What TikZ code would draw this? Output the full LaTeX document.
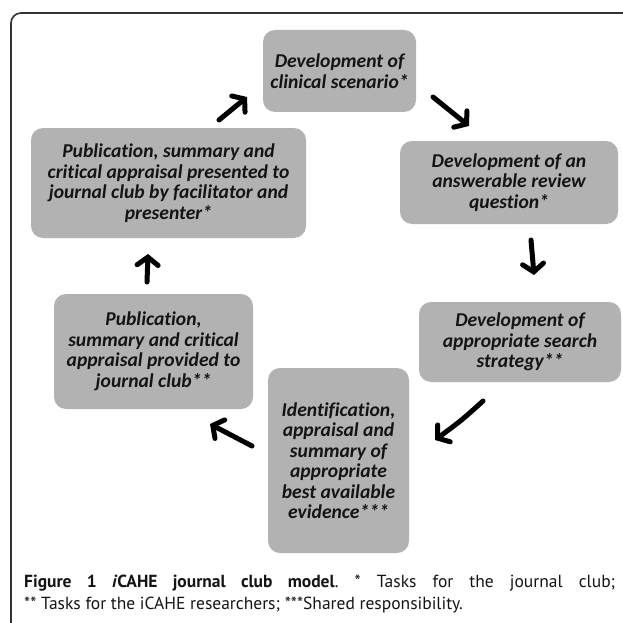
\documentclass[tikz,border=0pt]{standalone}
\usepackage{fontspec}
\setmainfont[Ligatures=NoCommon]{Carlito}
\newfontfamily\capfont{PT Sans}
\usetikzlibrary{arrows.meta}
\definecolor{boxgray}{RGB}{178,178,178}
\definecolor{framegray}{RGB}{50,50,50}
\definecolor{txt}{RGB}{20,20,20}
\frenchspacing
\begin{document}
\begin{tikzpicture}[x=1pt,y=-1pt,
  stage/.style={rectangle, rounded corners=12pt, fill=boxgray, align=center,
    text=txt, inner sep=0pt,
    font=\fontsize{19.6}{20.5}\selectfont\bfseries\itshape},
  flow/.style={line width=5pt, line cap=round, black,
    -{Straight Barb[length=8pt,width=21pt,line cap=round]}}]
\useasboundingbox (0,0) rectangle (622,623);
% frame
\draw[framegray, line width=1.6pt, rounded corners=10pt] (11,623) -- (11,13) -- (623,13);
% stages
\node[stage, minimum width=153pt, minimum height=82pt] (s1) at (339.5,71)
  {Development of\\clinical scenario*};
\node[stage, minimum width=218pt, minimum height=83pt] (s2) at (509,182.5)
  {Development of an\\answerable review\\question*};
\node[stage, minimum width=202pt, minimum height=80pt] (s3) at (520,342)
  {Development of\\appropriate search\\strategy**};
\node[stage, minimum width=141pt, minimum height=185pt] (s4) at (338.5,460.5)
  {Identification,\\appraisal and\\summary of\\appropriate\\best available\\evidence***};
\node[stage, minimum width=199pt, minimum height=115pt] (s5) at (153.5,351.5)
  {Publication,\\summary and critical\\appraisal provided to\\journal club**};
\node[stage, minimum width=275pt, minimum height=110pt] (s6) at (168.5,183)
  {Publication, summary and\\critical appraisal presented to\\journal club by facilitator and\\presenter*};
% arrow ends
\coordinate (a1s) at (433,97);  \coordinate (a1e) at (469,126);
\coordinate (a2s) at (531,240); \coordinate (a2e) at (534,275);
\coordinate (a3s) at (483,401); \coordinate (a3e) at (435,440);
\coordinate (a4s) at (252,446); \coordinate (a4e) at (210,424);
\coordinate (a5s) at (147,282); \coordinate (a5e) at (148,254);
\coordinate (a6s) at (219,120); \coordinate (a6e) at (247,97);
\draw[flow] (a1s) -- (a1e);
\draw[flow] (a2s) -- (a2e);
\draw[flow] (a3s) .. controls (462,420) .. (a3e);
\draw[flow] (a4s) -- (a4e);
\draw[flow] (a5s) -- (a5e);
\draw[flow] (a6s) -- (a6e);
% caption
\node[anchor=base west, inner sep=0pt, text=txt, font=\capfont\fontsize{17.5}{21}\selectfont] (cap1) at (24,587)
  {\makebox[591pt][s]{\textbf{Figure 1 \textit{i}CAHE journal club model}. * Tasks for the journal club;}};
\node[anchor=base west, inner sep=0pt, text=txt, font=\capfont\fontsize{17.5}{21}\selectfont] (cap2) at (24,609)
  {** Tasks for the iCAHE researchers; ***Shared responsibility.};
\end{tikzpicture}
\end{document}
